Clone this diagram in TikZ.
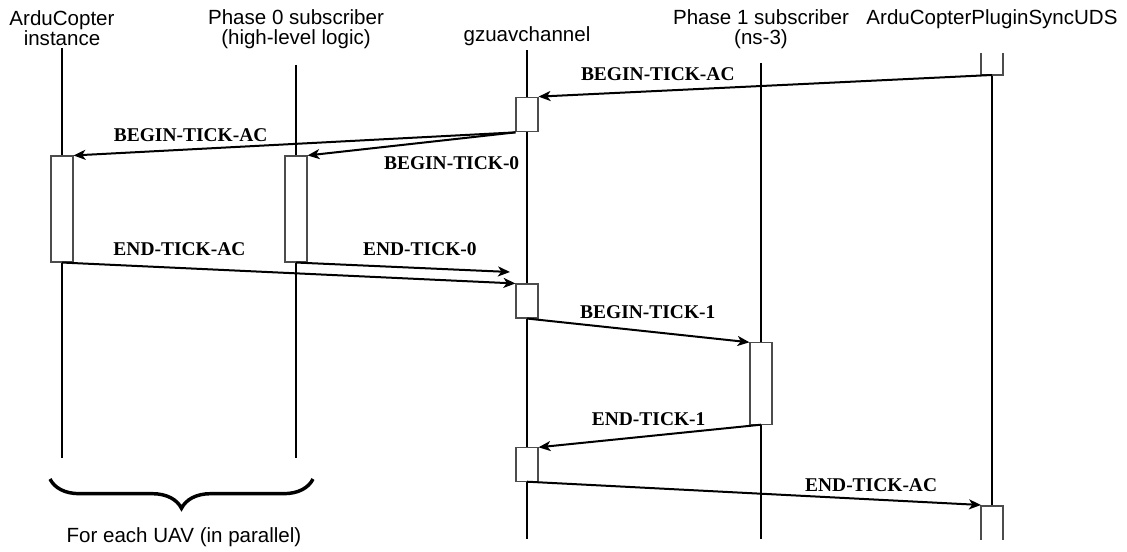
\documentclass[tikz,border=0pt]{standalone}
\usepackage{fontspec}
\setmainfont{Liberation Serif}
\setsansfont{Liberation Sans}
\usetikzlibrary{arrows.meta, decorations.pathreplacing}

\begin{document}
\begin{tikzpicture}[x=0.75pt, y=-0.75pt,
    every node/.style={inner sep=1pt},
    head/.style={font=\sffamily\fontsize{15.4}{15}\selectfont, align=center},
    life/.style={line width=1.5pt},
    act/.style={draw=black!70, line width=0.8pt, fill=white, minimum width=16.5pt, minimum height=#1, inner sep=0pt},
    stub/.style={draw=black!70, line width=0.8pt},
    msg/.style={line width=1.5pt, -{Stealth[length=9pt,width=7.5pt,inset=2.5pt]}},
    lbl/.style={font=\bfseries\fontsize{14.6}{16}\selectfont}]
    \useasboundingbox (0,0) rectangle (1127,552);

    % participants
    \node[head] (hac) at (62,28) {ArduCopter\\instance};
    \node[head] (hp0) at (296,29) {Phase 0 subscriber\\(high-level logic)};
    \node[head] (hgz) at (527,36) {gzuavchannel};
    \node[head] (hp1) at (761,29) {Phase 1 subscriber\\(ns-3)};
    \node[head] (huds) at (992,19) {ArduCopterPluginSyncUDS};

    % lifelines
    \draw[life] (62,48) -- (62,458);
    \draw[life] (296,65) -- (296,458);
    \draw[life] (527,50) -- (527,539);
    \draw[life] (761,63) -- (761,539);
    \draw[life] (992,75) -- (992,506);

    % activations
    \node[act=79.5pt] (ac) at (62,209) {};
    \node[act=79.5pt] (p0) at (296,209) {};
    \node[act=26pt] (gz1) at (527,114.5) {};
    \node[act=25.5pt] (gz2) at (527,301) {};
    \node[act=25pt] (gz3) at (527,464.5) {};
    \node[act=61pt] (p1) at (761,383.5) {};
    \draw[stub] (981,53) -- (981,75) -- (1003,75) -- (1003,53);
    \draw[stub] (981,540) -- (981,506) -- (1003,506) -- (1003,540);
    \coordinate (uds-top) at (992,75);
    \coordinate (uds-bot) at (981,505);
    \coordinate (gz-in) at (510,272);

    % messages
    \draw[msg] (uds-top) -- node[lbl, pos=.737, above=6.3pt] {BEGIN-TICK-AC} (gz1.north east);
    \draw[msg] (gz1.south west) -- node[lbl, pos=.735, above=4pt] {BEGIN-TICK-AC} (ac.north east);
    \draw[msg] (gz1.south west) -- node[lbl, pos=.307, below=11.2pt] {BEGIN-TICK-0} (p0.north east);
    \draw[msg] (ac.south) -- node[lbl, pos=.259, above=7.5pt] {END-TICK-AC} (gz2.north west);
    \draw[msg] (p0.south) -- node[lbl, pos=.579, above=7.3pt] {END-TICK-0} (gz-in);
    \draw[msg] (gz2.south) -- node[lbl, pos=.543, above=8.1pt] {BEGIN-TICK-1} (p1.north west);
    \draw[msg] (p1.south) -- node[lbl, pos=.505, above=6.3pt] {END-TICK-1} (gz3.north east);
    \draw[msg] (gz3.south) -- node[lbl, pos=.758, above=3.8pt] {END-TICK-AC} (uds-bot);

    % group brace
    \coordinate (grp-l) at (50,479);
    \coordinate (grp-r) at (313,479);
    \draw[line width=2.6pt, decorate, decoration={brace, mirror, amplitude=22pt}] (grp-l) -- (grp-r);
    \node[head] (grp) at (184,537) {For each UAV (in parallel)};
\end{tikzpicture}
\end{document}
